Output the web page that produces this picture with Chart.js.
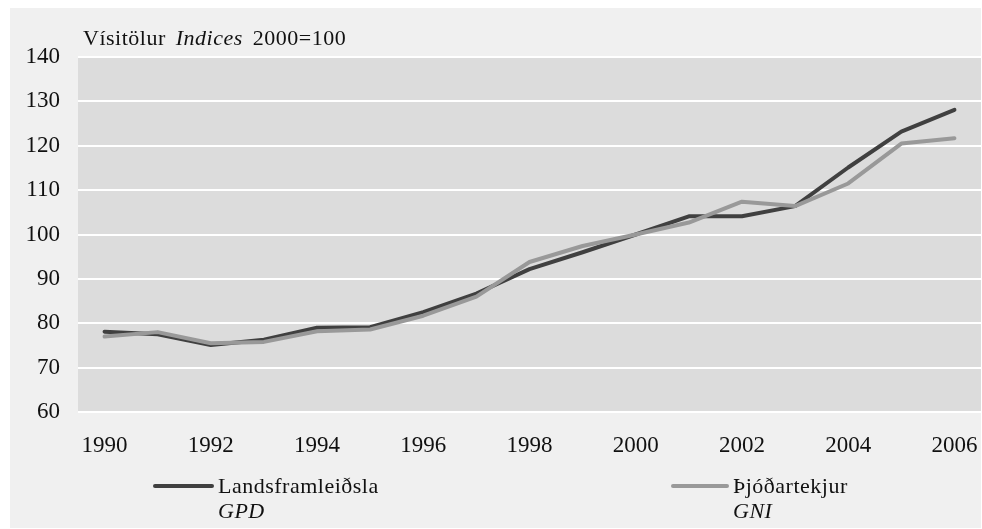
<!DOCTYPE html>
<html lang="is">
<head>
<meta charset="utf-8">
<title>Vísitölur 2000=100</title>
<script src="https://cdn.jsdelivr.net/npm/chart.js@4/dist/chart.umd.min.js"></script>
<style>
  html, body { margin: 0; padding: 0; background: #fff; overflow: hidden; }
  #wrap { position: relative; width: 982px; height: 529px; }
</style>
</head>
<body>
<div id="wrap"><canvas id="chartCanvas"></canvas></div>
<script>
// data
const years = ['1990', '1991', '1992', '1993', '1994', '1995', '1996', '1997', '1998',
  '1999', '2000', '2001', '2002', '2003', '2004', '2005', '2006'];
const gdpValues = [78.1, 77.5, 75.1, 76.3, 79.0, 79.1, 82.5, 86.7, 92.2,
  96.0, 100, 104.1, 104.1, 106.4, 115.1, 123.2, 128.1];
const gniValues = [77.0, 78.0, 75.5, 75.8, 78.2, 78.6, 81.7, 86.0, 93.8,
  97.4, 100, 102.7, 107.4, 106.4, 111.5, 120.5, 121.7];
const yTicks = [60, 70, 80, 90, 100, 110, 120, 130, 140];

const titleParts = [
  { text: 'Vísitölur', italic: false },
  { text: 'Indices', italic: true },
  { text: '2000=100', italic: false },
];
const legendItems = [
  { name: 'Landsframleiðsla', sub: 'GPD', color: '#404040' },
  { name: 'Þjóðartekjur', sub: 'GNI', color: '#999999' },
];

const FONT = '"Liberation Serif", "Times New Roman", serif';

function font(size, italic) {
  return (italic ? 'italic ' : '') + size + 'px ' + FONT;
}

const backdrop = {
  id: 'backdrop',
  beforeDraw(chart) {
    const { ctx, chartArea: a } = chart;
    ctx.save();
    ctx.fillStyle = '#ffffff';
    ctx.fillRect(0, 0, chart.width, chart.height);
    ctx.fillStyle = '#f0f0f0';
    ctx.fillRect(10, 8, 971, 520);
    ctx.fillStyle = '#dcdcdc';
    ctx.fillRect(a.left, a.top, a.right - a.left, a.bottom - a.top);
    ctx.restore();
  },
};

const texts = {
  id: 'texts',
  afterDraw(chart) {
    const { ctx } = chart;
    ctx.save();
    ctx.fillStyle = '#111';
    ctx.textBaseline = 'alphabetic';
    ctx.textAlign = 'left';
    ctx.letterSpacing = '0.5px';

    // title with mixed upright / italic runs
    let x = 83;
    for (const p of titleParts) {
      ctx.font = font(22, p.italic);
      ctx.fillText(p.text, x, 45);
      x += ctx.measureText(p.text).width + 10;
    }

    // legend, two rows per entry
    const slots = [{ x0: 155, x1: 212 }, { x0: 673, x1: 727 }];
    legendItems.forEach((it, i) => {
      const s = slots[i];
      ctx.strokeStyle = it.color;
      ctx.lineWidth = 4;
      ctx.lineCap = 'round';
      ctx.beginPath();
      ctx.moveTo(s.x0, 486);
      ctx.lineTo(s.x1, 486);
      ctx.stroke();
      ctx.fillStyle = '#111';
      ctx.font = font(22, false);
      ctx.fillText(it.name, s.x1 + 6, 493);
      ctx.font = font(22, true);
      ctx.fillText(it.sub, s.x1 + 6, 518);
    });
    ctx.restore();
  },
};

window.addEventListener('DOMContentLoaded', () => {
  const ctx = document.getElementById('chartCanvas');

  new Chart(ctx, {
    type: 'line',
    data: {
      labels: years,
      datasets: [
        {
          label: 'Landsframleiðsla GPD',
          data: gdpValues,
          borderColor: '#404040',
          borderWidth: 4,
          order: 1,
        },
        {
          label: 'Þjóðartekjur GNI',
          data: gniValues,
          borderColor: '#999999',
          borderWidth: 4,
          order: 0,
        },
      ],
    },
    options: {
      responsive: true,
      maintainAspectRatio: false,
      animation: false,
      elements: {
        point: { radius: 0, hoverRadius: 0 },
        line: { tension: 0, borderCapStyle: 'round', borderJoinStyle: 'round', fill: false },
      },
      layout: { padding: { left: 0, right: 1, top: 57, bottom: 77 } },
      plugins: {
        legend: { display: false },
        tooltip: { enabled: false },
      },
      scales: {
        x: {
          offset: true,
          grid: { display: false, drawTicks: false },
          border: { display: false },
          ticks: {
            autoSkip: false,
            maxRotation: 0,
            padding: 20,
            color: '#111',
            font: { family: FONT, size: 23 },
            callback: (v, i) => (Number(years[i]) % 2 === 0 ? years[i] : ''),
          },
          afterFit: (s) => {
            s.height = 40;
            // keep the plot running to the panel edge
            s.paddingLeft = 0;
            s.paddingRight = 0;
          },
        },
        y: {
          min: yTicks[0],
          max: yTicks[yTicks.length - 1],
          afterBuildTicks: (s) => { s.ticks = yTicks.map((v) => ({ value: v })); },
          grid: { color: '#ffffff', lineWidth: 2, drawTicks: false },
          border: { display: false },
          ticks: {
            padding: 18,
            color: '#111',
            font: { family: FONT, size: 23 },
          },
          afterFit: (s) => {
            s.width = 78;
            s.paddingTop = 0;
            s.paddingBottom = 0;
          },
        },
      },
    },
    plugins: [backdrop, texts],
  });
});
</script>
</body>
</html>
